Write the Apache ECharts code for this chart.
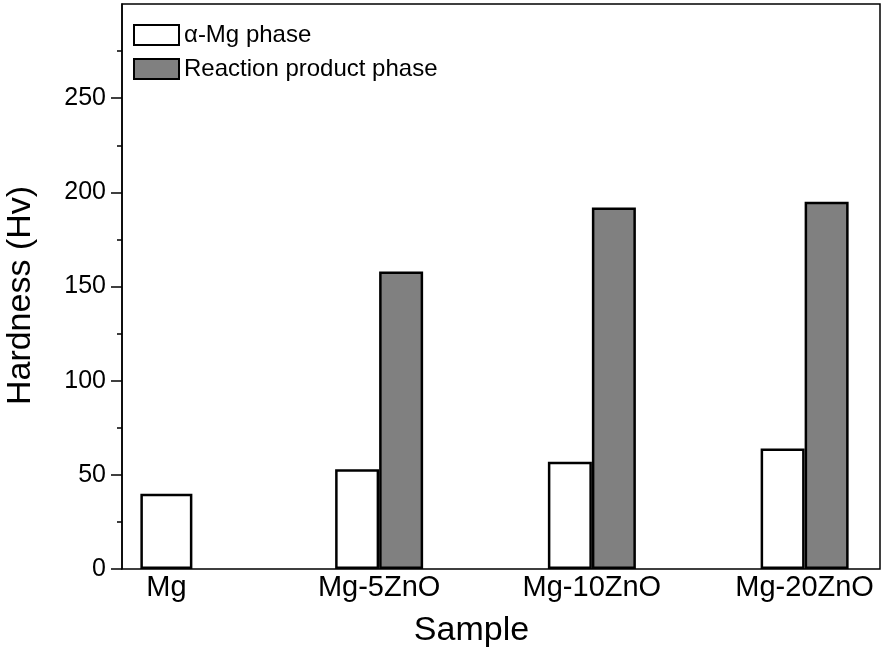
<!DOCTYPE html>
<html lang="en">
<head>
    <meta charset="UTF-8">
    <title>Hardness</title>
    <script src="https://cdn.jsdelivr.net/npm/echarts@6/dist/echarts.min.js"></script>
    <style>
        body { margin: 0; background: #fff; }
        #main { width: 885px; height: 654px; }
    </style>
</head>
<body>
<div id="main"></div>

<script type="text/javascript">
    // data
    var samples = ['Mg', 'Mg-5ZnO', 'Mg-10ZnO', 'Mg-20ZnO'];
    var alphaMg = [40, 53, 57, 64];           // α-Mg phase
    var reaction = [null, 158, 192, 195];     // Reaction product phase (none for pure Mg)
    var yTicks = [0, 50, 100, 150, 200, 250];

    // pure Mg has only one bar, drawn centred on its own hidden axis
    var singleBar = alphaMg.map(function (v, i) { return reaction[i] == null ? v : '-'; });
    var pairWhite = alphaMg.map(function (v, i) { return reaction[i] == null ? '-' : v; });
    var pairGray = reaction.map(function (v) { return v == null ? '-' : v; });

    var font = "'Liberation Sans', Arial, sans-serif";
    var myChart = echarts.init(document.getElementById('main'));

    var option = {
        animation: false,
        textStyle: { fontFamily: font, color: '#000' },
        legend: {
            orient: 'vertical',
            left: 128,
            top: 18,
            icon: 'rect',
            itemWidth: 45,
            itemHeight: 20,
            itemGap: 10,
            textStyle: { fontSize: 24, color: '#000', fontFamily: font },
            itemStyle: { borderColor: '#000', borderWidth: 2 },
            data: ['α-Mg phase', 'Reaction product phase']
        },
        grid: [
            // frame + y axis
            { left: 122, right: 5, top: 4, bottom: 85, outerBoundsMode: 'none',
              show: true, borderColor: '#000', borderWidth: 1.5 },
            // bars + categories (wider than the frame so the groups sit where they do in the figure)
            { left: 60, width: 851, top: 4, bottom: 85, outerBoundsMode: 'none' }
        ],
        xAxis: [
            { gridIndex: 0, type: 'category', data: samples, show: false },
            {
                gridIndex: 1, type: 'category', data: samples,
                axisLine: { show: false },
                axisTick: { show: false },
                axisLabel: { fontSize: 29, color: '#000', margin: 4, fontFamily: font },
                name: 'Sample',
                nameLocation: 'middle',
                nameGap: 45,
                nameTextStyle: { fontSize: 34, color: '#000', fontFamily: font, padding: [0, 28, 0, 0] }
            },
            { gridIndex: 1, type: 'category', data: samples, show: false }
        ],
        yAxis: [
            {
                gridIndex: 0, type: 'value', min: 0, max: 300, interval: 50,
                splitLine: { show: false },
                axisLine: { show: true, lineStyle: { color: '#000', width: 1.5 } },
                axisTick: { show: true, inside: false, length: 11, customValues: yTicks, lineStyle: { color: '#000', width: 1.5 } },
                minorTick: { show: true, splitNumber: 2, length: 5, lineStyle: { color: '#000', width: 1.5 } },
                axisLabel: { fontSize: 25, color: '#000', margin: 16, customValues: yTicks, fontFamily: font },
                name: 'Hardness (Hv)',
                nameLocation: 'middle',
                nameGap: 84,
                nameTextStyle: { fontSize: 34, color: '#000', fontFamily: font, padding: [0, 18, 0, 0] }
            },
            { gridIndex: 1, type: 'value', min: 0, max: 300, show: false }
        ],
        series: [
            {
                name: 'α-Mg phase', type: 'bar', xAxisIndex: 1, yAxisIndex: 1,
                barWidth: 44, barGap: '0%',
                itemStyle: { color: '#ffffff', borderColor: '#000', borderWidth: 2.5 },
                data: pairWhite
            },
            {
                name: 'Reaction product phase', type: 'bar', xAxisIndex: 1, yAxisIndex: 1,
                barWidth: 44, barGap: '0%',
                itemStyle: { color: '#808080', borderColor: '#000', borderWidth: 2.5 },
                data: pairGray
            },
            {
                name: 'α-Mg phase', type: 'bar', xAxisIndex: 2, yAxisIndex: 1,
                barWidth: 52,
                itemStyle: { color: '#ffffff', borderColor: '#000', borderWidth: 2.5 },
                data: singleBar
            }
        ]
    };

    myChart.setOption(option);
</script>
</body>
</html>
